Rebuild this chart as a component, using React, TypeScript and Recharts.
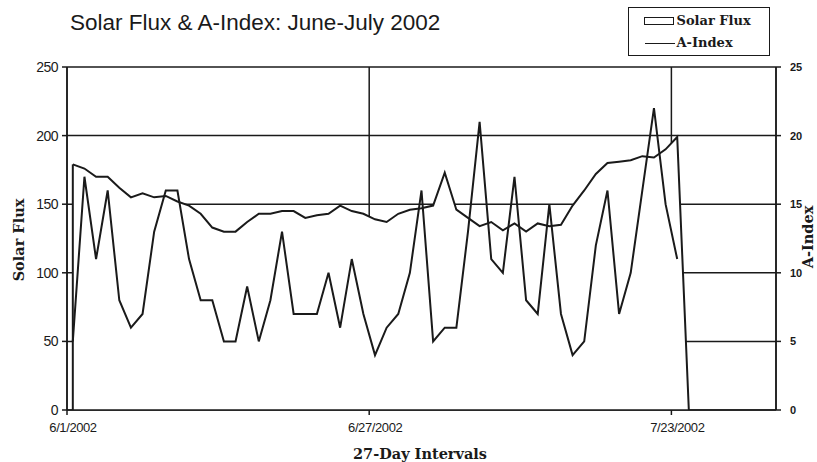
import { ComposedChart, Area, Line, XAxis, YAxis, CartesianGrid, ReferenceLine } from 'recharts'

// daily values from 6/1/2002, one per day
const solarFlux = [
    179, 176, 170, 170, 162, 155, 158, 155, 156, 152,
    149, 143, 133, 130, 130, 137, 143, 143, 145, 145,
    140, 142, 143, 149, 145, 143, 139, 137, 143, 146,
    147, 149, 173, 146, 140, 134, 137, 131, 136, 130,
    136, 134, 135, 149, 160, 172, 180, 181, 182, 185,
    184, 190, 199, 0
]
const aIndex = [
    5, 17, 11, 16, 8, 6, 7, 13, 16, 16,
    11, 8, 8, 5, 5, 9, 5, 8, 13, 7,
    7, 7, 10, 6, 11, 7, 4, 6, 7, 10,
    16, 5, 6, 6, 13, 21, 11, 10, 17, 8,
    7, 15, 7, 4, 5, 12, 16, 7, 10, 16,
    22, 15, 11
]
const tickDays = [0, 26, 52]
const tickLabels = ['6/1/2002', '6/27/2002', '7/23/2002']
const fluxTicks = [0, 50, 100, 150, 200, 250]
const aTicks = [0, 5, 10, 15, 20, 25]
const daysShown = 61

// readings are plotted at noon of each day
const data = solarFlux.map((f, i) => ({ day: i + 0.5, flux: f, a: aIndex[i] }))

const SANS = '"Liberation Sans", Arial, sans-serif'
const SERIF = '"DejaVu Serif", "Liberation Serif", serif'
const INK = '#1a1a1a'

const axisTitle = {
    position: 'absolute' as const,
    fontFamily: SERIF,
    fontWeight: 'bold' as const,
    fontSize: 14.5,
    color: INK,
    whiteSpace: 'nowrap' as const
}

export default function App() {
    return (
        <div style={{ position: 'absolute', left: 0, top: 0, width: 817, height: 462, background: '#fff', overflow: 'hidden' }}>
            <div style={{ position: 'absolute', left: 70, top: 10, fontFamily: SANS, fontSize: 22.5, color: INK, whiteSpace: 'nowrap' }}>
                Solar Flux &amp; A-Index: June-July 2002
            </div>

            <div style={{ position: 'absolute', left: 628, top: 7, width: 140, height: 47, border: `1.5px solid ${INK}`, fontFamily: SERIF, fontWeight: 'bold', fontSize: 13, color: INK, whiteSpace: 'nowrap' }}>
                <div style={{ position: 'absolute', left: 14.5, top: 9, width: 28, height: 6, border: `1.5px solid ${INK}` }} />
                <div style={{ position: 'absolute', left: 47.5, top: 5 }}>Solar Flux</div>
                <div style={{ position: 'absolute', left: 15.5, top: 34.5, width: 30, height: 0, borderTop: `1.5px solid ${INK}` }} />
                <div style={{ position: 'absolute', left: 47.5, top: 27 }}>A-Index</div>
            </div>

            <div style={{ ...axisTitle, left: 18, top: 240, transform: 'translate(-50%, -50%) rotate(-90deg)' }}>
                Solar Flux
            </div>
            <div style={{ ...axisTitle, left: 807, top: 237, transform: 'translate(-50%, -50%) rotate(-90deg)' }}>
                A-Index
            </div>
            <div style={{ ...axisTitle, left: 420, top: 453, transform: 'translate(-50%, -50%)' }}>
                27-Day Intervals
            </div>

            <ComposedChart
                width={817}
                height={462}
                data={data}
                margin={{ top: 67, right: 11, left: 22, bottom: 22 }}
                style={{ position: 'absolute', left: 0, top: 0 }}
            >
                <CartesianGrid yAxisId="flux" stroke={INK} strokeWidth={1.5} />
                <XAxis
                    dataKey="day"
                    type="number"
                    domain={[0, daysShown]}
                    ticks={tickDays}
                    tickFormatter={(v) => tickLabels[tickDays.indexOf(v)]}
                    height={30}
                    tickSize={5}
                    tickMargin={8}
                    stroke={INK}
                    strokeWidth={1.5}
                    tick={{ fill: INK, fontFamily: SANS, fontSize: 13, dx: 6, letterSpacing: -0.4 }}
                    allowDataOverflow
                />
                <YAxis
                    yAxisId="flux"
                    domain={[0, 250]}
                    ticks={fluxTicks}
                    width={45}
                    tickSize={5}
                    tickMargin={4}
                    stroke={INK}
                    strokeWidth={1.5}
                    tick={{ fill: INK, fontFamily: SANS, fontSize: 14, letterSpacing: -0.5 }}
                />
                <YAxis
                    yAxisId="a"
                    orientation="right"
                    domain={[0, 25]}
                    ticks={aTicks}
                    width={30}
                    tickSize={5}
                    tickMargin={9}
                    stroke={INK}
                    strokeWidth={1.5}
                    tick={{ fill: INK, fontFamily: SANS, fontSize: 11, fontWeight: 'bold' }}
                />
                <Area
                    yAxisId="flux"
                    dataKey="flux"
                    type="linear"
                    stroke={INK}
                    strokeWidth={2}
                    fill="#fff"
                    fillOpacity={1}
                    isAnimationActive={false}
                />
                <ReferenceLine
                    yAxisId="flux"
                    segment={[{ x: data[0].day, y: 0 }, { x: data[0].day, y: data[0].flux }]}
                    stroke={INK}
                    strokeWidth={2}
                />
                <Line
                    yAxisId="a"
                    dataKey="a"
                    type="linear"
                    stroke={INK}
                    strokeWidth={2}
                    dot={false}
                    isAnimationActive={false}
                />
            </ComposedChart>
        </div>
    )
}
